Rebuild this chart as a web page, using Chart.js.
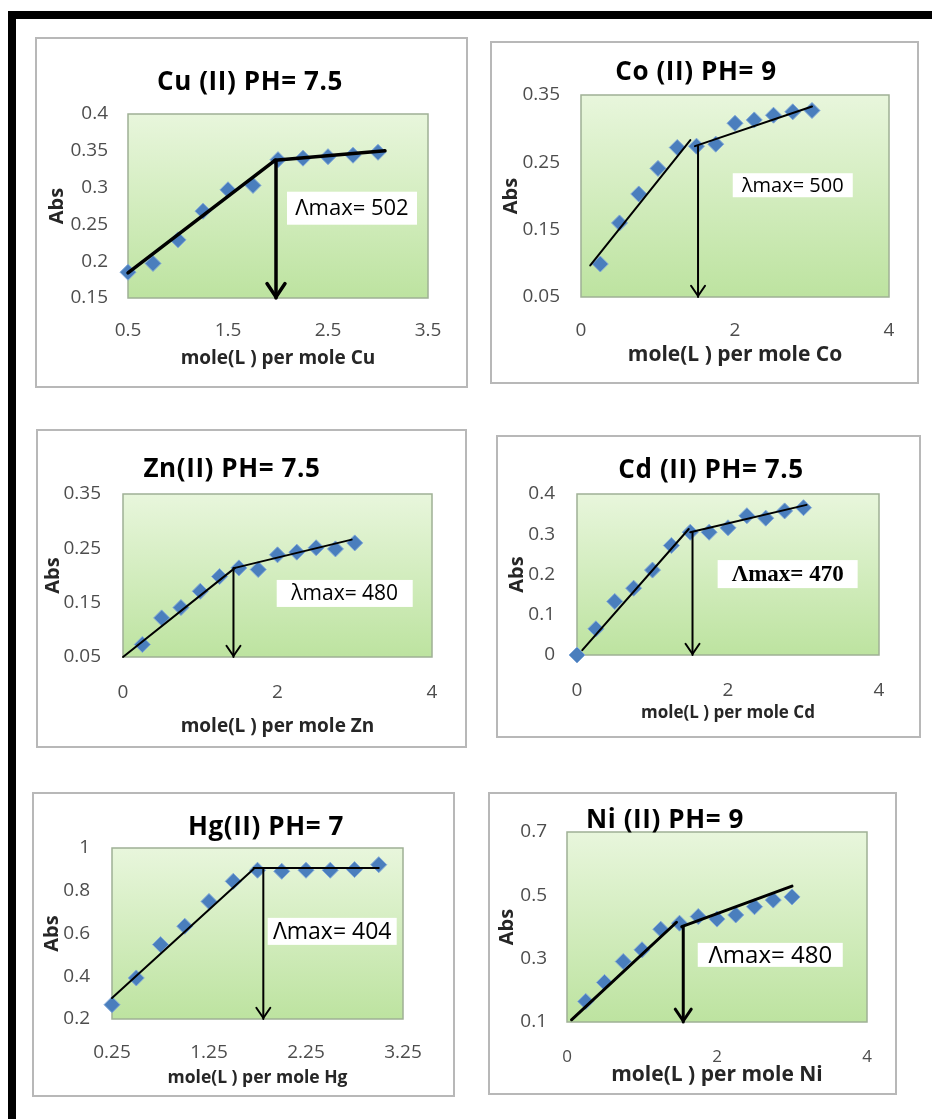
<!DOCTYPE html>
<html>
<head>
<meta charset="utf-8">
<script src="https://cdn.jsdelivr.net/npm/chart.js@4.4.1/dist/chart.umd.min.js"></script>
<style>
  html, body { margin: 0; padding: 0; background: #fff; }
  body { width: 932px; height: 1119px; position: relative; overflow: hidden; font-family: "Open Sans", Lato, sans-serif; }
  .frame-top { position: absolute; left: 8px; top: 11px; width: 924px; height: 8px; background: #000; }
  .frame-left { position: absolute; left: 8px; top: 11px; width: 8px; height: 1108px; background: #000; }
  .box { position: absolute; border: 2px solid #b8b8b8; box-sizing: border-box; background: #fff; }
  canvas { position: absolute; }
  .title { position: absolute; font-weight: bold; font-size: 26px; letter-spacing: 0.6px; transform: translate(-50%, -50%); white-space: nowrap; color: #000; }
</style>
</head>
<body>
<div class="frame-top"></div>
<div class="frame-left"></div>

<script>
// Cu (II) PH= 7.5
const cuRatio = [0.5, 0.75, 1, 1.25, 1.5, 1.75, 2, 2.25, 2.5, 2.75, 3];
const cuAbs = [0.185, 0.197, 0.229, 0.268, 0.297, 0.303, 0.338, 0.340, 0.342, 0.344, 0.348];
const cuFit1 = [[0.5, 0.184], [1.97, 0.337]];
const cuFit2 = [[1.97, 0.337], [3.07, 0.350]];
const cuArrow = [1.98, 0.337];
const cuXTicks = [0.5, 1.5, 2.5, 3.5];
const cuYTicks = [0.15, 0.2, 0.25, 0.3, 0.35, 0.4];

// Co (II) PH= 9
const coRatio = [0.25, 0.5, 0.75, 1, 1.25, 1.5, 1.75, 2, 2.25, 2.5, 2.75, 3];
const coAbs = [0.099, 0.160, 0.203, 0.241, 0.272, 0.274, 0.277, 0.308, 0.313, 0.320, 0.325, 0.327];
const coFit1 = [[0.12, 0.097], [1.42, 0.283]];
const coFit2 = [[1.48, 0.274], [3.0, 0.333]];
const coArrow = [1.52, 0.274];
const coXTicks = [0, 2, 4];
const coYTicks = [0.05, 0.15, 0.25, 0.35];

// Zn(II) PH= 7.5
const znRatio = [0.25, 0.5, 0.75, 1, 1.25, 1.5, 1.75, 2, 2.25, 2.5, 2.75, 3];
const znAbs = [0.073, 0.122, 0.141, 0.171, 0.198, 0.214, 0.211, 0.238, 0.243, 0.251, 0.249, 0.260];
const znFit1 = [[0, 0.05], [1.45, 0.214]];
const znFit2 = [[1.45, 0.214], [2.96, 0.266]];
const znArrow = [1.43, 0.214];
const znXTicks = [0, 2, 4];
const znYTicks = [0.05, 0.15, 0.25, 0.35];

// Cd (II) PH= 7.5
const cdRatio = [0, 0.25, 0.5, 0.75, 1, 1.25, 1.5, 1.75, 2, 2.25, 2.5, 2.75, 3];
const cdAbs = [0, 0.065, 0.133, 0.166, 0.211, 0.272, 0.305, 0.305, 0.316, 0.346, 0.340, 0.358, 0.366];
const cdFit1 = [[0.07, 0.012], [1.48, 0.313]];
const cdFit2 = [[1.50, 0.305], [3.04, 0.373]];
const cdArrow = [1.53, 0.305];
const cdXTicks = [0, 2, 4];
const cdYTicks = [0, 0.1, 0.2, 0.3, 0.4];

// Hg(II) PH= 7
const hgRatio = [0.25, 0.5, 0.75, 1, 1.25, 1.5, 1.75, 2, 2.25, 2.5, 2.75, 3];
const hgAbs = [0.267, 0.392, 0.548, 0.634, 0.750, 0.844, 0.896, 0.891, 0.896, 0.896, 0.899, 0.922];
const hgFit1 = [[0.25, 0.298], [1.71, 0.902]];
const hgFit2 = [[1.71, 0.906], [3.0, 0.906]];
const hgArrow = [1.81, 0.906];
const hgXTicks = [0.25, 1.25, 2.25, 3.25];
const hgYTicks = [0.2, 0.4, 0.6, 0.8, 1];

// Ni (II) PH= 9
const niRatio = [0.25, 0.5, 0.75, 1, 1.25, 1.5, 1.75, 2, 2.25, 2.5, 2.75, 3];
const niAbs = [0.165, 0.225, 0.291, 0.328, 0.393, 0.412, 0.433, 0.425, 0.438, 0.464, 0.485, 0.495];
const niFit1 = [[0.06, 0.107], [1.46, 0.415]];
const niFit2 = [[1.53, 0.401], [3.0, 0.529]];
const niArrow = [1.55, 0.401];
const niXTicks = [0, 2, 4];
const niYTicks = [0.1, 0.3, 0.5, 0.7];

// Layout of each small chart (page pixels) and its labels
const panels = [
  { title: 'Cu (II) PH= 7.5', titleAt: [250, 80], box: [35, 37, 468, 388], plot: [128, 114, 428, 298],
    ratio: cuRatio, abs: cuAbs, fit1: cuFit1, fit2: cuFit2, arrow: cuArrow, xTicks: cuXTicks, yTicks: cuYTicks,
    xTitle: 'mole(L ) per mole Cu', xTitleSize: 19, xTitlePad: 18, xTickPad: 21, xTickSize: 19, yTickPad: 20, yTitlePad: 10,
    lineW: 3.5, head: 9, label: { text: 'Λmax= 502', x: 2.74, y: 0.272, w: 130, h: 33, font: '22px "Open Sans"' } },
  { title: 'Co (II) PH= 9', titleAt: [696, 70], box: [490, 41, 919, 384], plot: [581, 95, 889, 297],
    ratio: coRatio, abs: coAbs, fit1: coFit1, fit2: coFit2, arrow: coArrow, xTicks: coXTicks, yTicks: coYTicks,
    xTitle: 'mole(L ) per mole Co', xTitleSize: 21, xTitlePad: 16, xTickPad: 22, xTickSize: 19, yTickPad: 21, yTitlePad: 9,
    lineW: 2, head: 7, label: { text: 'λmax= 500', x: 2.75, y: 0.216, w: 120, h: 24, font: '20px "Open Sans"' } },
  { title: 'Zn(II) PH= 7.5', titleAt: [232, 467], box: [36, 429, 467, 748], plot: [123, 494, 432, 657],
    ratio: znRatio, abs: znAbs, fit1: znFit1, fit2: znFit2, arrow: znArrow, xTicks: znXTicks, yTicks: znYTicks,
    xTitle: 'mole(L ) per mole Zn', xTitleSize: 19, xTitlePad: 10, xTickPad: 24, xTickSize: 19, yTickPad: 22, yTitlePad: 5,
    lineW: 2, head: 7, label: { text: 'λmax= 480', x: 2.87, y: 0.167, w: 136, h: 27, font: '21px "Open Sans"' } },
  { title: 'Cd (II) PH= 7.5', titleAt: [711, 468], box: [496, 435, 921, 738], plot: [577, 494, 879, 655],
    ratio: cdRatio, abs: cdAbs, fit1: cdFit1, fit2: cdFit2, arrow: cdArrow, xTicks: cdXTicks, yTicks: cdYTicks,
    xTitle: 'mole(L ) per mole Cd', xTitleSize: 17, xTitlePad: 15, xTickPad: 24, xTickSize: 19, yTickPad: 22, yTitlePad: 9,
    lineW: 2, head: 7, label: { text: 'Λmax= 470', x: 2.79, y: 0.201, w: 140, h: 28, font: 'bold 23px "Liberation Serif"' } },
  { title: 'Hg(II) PH= 7', titleAt: [266, 825], box: [32, 792, 455, 1097], plot: [112, 848, 403, 1019],
    ratio: hgRatio, abs: hgAbs, fit1: hgFit1, fit2: hgFit2, arrow: hgArrow, xTicks: hgXTicks, yTicks: hgYTicks,
    xTitle: 'mole(L ) per mole Hg', xTitleSize: 17.5, xTitlePad: 8, xTickPad: 22, xTickSize: 19, yTickPad: 22, yTitlePad: 8,
    lineW: 2, head: 7, label: { text: 'Λmax= 404', x: 2.52, y: 0.61, w: 129, h: 27, font: '23px "Open Sans"' } },
  { title: 'Ni (II) PH= 9', titleAt: [665, 818], box: [488, 792, 897, 1095], plot: [567, 832, 867, 1022],
    ratio: niRatio, abs: niAbs, fit1: niFit1, fit2: niFit2, arrow: niArrow, xTicks: niXTicks, yTicks: niYTicks,
    xTitle: 'mole(L ) per mole Ni', xTitleSize: 21, xTitlePad: 7, xTickPad: 25, xTickSize: 17, yTickPad: 20, yTitlePad: 7,
    lineW: 3, head: 8, label: { text: 'Λmax= 480', x: 2.71, y: 0.312, w: 145, h: 24, font: '24px "Open Sans"' } }
];

// Plot area background, arrow head and the λmax label
const plotDecor = {
  id: 'plotDecor',
  beforeDatasetsDraw(chart) {
    const { ctx, chartArea: a } = chart;
    const g = ctx.createLinearGradient(0, a.top, 0, a.bottom);
    g.addColorStop(0, '#e8f6dc');
    g.addColorStop(1, '#bde3a0');
    ctx.save();
    ctx.fillStyle = g;
    ctx.fillRect(a.left, a.top, a.width, a.height);
    ctx.strokeStyle = '#9fb095';
    ctx.lineWidth = 1.5;
    ctx.strokeRect(a.left, a.top, a.width, a.height);
    ctx.restore();
  },
  afterDatasetsDraw(chart, args, opts) {
    const { ctx, scales: { x, y } } = chart;
    const ax = x.getPixelForValue(opts.arrow[0]);
    const ay = y.getPixelForValue(y.min);
    ctx.save();
    ctx.strokeStyle = '#000';
    ctx.lineWidth = opts.lineW;
    ctx.lineCap = 'round';
    ctx.lineJoin = 'round';
    ctx.beginPath();
    ctx.moveTo(ax - opts.head, ay - opts.head * 1.6);
    ctx.lineTo(ax, ay - 1);
    ctx.lineTo(ax + opts.head, ay - opts.head * 1.6);
    ctx.stroke();

    const lb = opts.label;
    const lx = x.getPixelForValue(lb.x);
    const ly = y.getPixelForValue(lb.y);
    ctx.fillStyle = '#ffffff';
    ctx.fillRect(lx - lb.w / 2, ly - lb.h / 2, lb.w, lb.h);
    ctx.fillStyle = '#000';
    ctx.font = lb.font;
    ctx.textAlign = 'center';
    ctx.textBaseline = 'middle';
    ctx.fillText(lb.text, lx, ly + 1);
    ctx.restore();
  }
};

const toPts = pairs => pairs.map(p => ({ x: p[0], y: p[1] }));

panels.forEach(p => {
  const [x0, y0, x1, y1] = p.box;
  const [px0, py0, px1, py1] = p.plot;
  const W = x1 - x0, H = y1 - y0;

  const box = document.createElement('div');
  box.className = 'box';
  Object.assign(box.style, { left: x0 + 'px', top: y0 + 'px', width: W + 'px', height: H + 'px' });
  document.body.appendChild(box);

  const cv = document.createElement('canvas');
  cv.width = W;
  cv.height = H;
  Object.assign(cv.style, { left: x0 + 'px', top: y0 + 'px', width: W + 'px', height: H + 'px' });
  document.body.appendChild(cv);

  const t = document.createElement('div');
  t.className = 'title';
  t.textContent = p.title;
  Object.assign(t.style, { left: p.titleAt[0] + 'px', top: p.titleAt[1] + 'px' });
  document.body.appendChild(t);

  const points = p.ratio.map((r, i) => ({ x: r, y: p.abs[i] }));
  const lineSet = (data, w) => ({
    data: toPts(data), showLine: true, borderColor: '#000', borderWidth: w,
    pointRadius: 0, borderCapStyle: 'round', clip: false, order: 1
  });

  new Chart(cv, {
    type: 'scatter',
    data: {
      datasets: [
        { data: points, pointStyle: 'rectRot', pointRadius: 8, pointHoverRadius: 8,
          backgroundColor: '#4a7ebd', borderColor: '#80a8d8', borderWidth: 1, clip: false, order: 2 },
        lineSet(p.fit1, p.lineW),
        lineSet(p.fit2, p.lineW),
        lineSet([p.arrow, [p.arrow[0], p.yTicks[0]]], p.lineW)
      ]
    },
    options: {
      responsive: false,
      devicePixelRatio: 1,
      animation: false,
      layout: { padding: { left: 0, top: py0 - y0, right: x1 - px1, bottom: 0 } },
      scales: {
        x: {
          type: 'linear',
          min: p.xTicks[0],
          max: p.xTicks[p.xTicks.length - 1],
          afterBuildTicks: s => { s.ticks = p.xTicks.map(v => ({ value: v })); },
          afterFit: s => { s.height = y1 - py1; s.paddingLeft = 0; s.paddingRight = 0; },
          grid: { display: false, drawTicks: false },
          border: { display: false },
          ticks: { padding: p.xTickPad, color: '#4d4d4d', autoSkip: false, maxRotation: 0,
            font: { family: 'Open Sans', size: p.xTickSize }, callback: v => String(v) },
          title: { display: true, text: p.xTitle, color: '#262626',
            font: { family: 'Open Sans', size: p.xTitleSize, weight: 'bold' },
            padding: { top: 0, bottom: p.xTitlePad } }
        },
        y: {
          type: 'linear',
          min: p.yTicks[0],
          max: p.yTicks[p.yTicks.length - 1],
          afterBuildTicks: s => { s.ticks = p.yTicks.map(v => ({ value: v })); },
          afterFit: s => { s.width = px0 - x0; s.paddingTop = 0; s.paddingBottom = 0; },
          grid: { display: false, drawTicks: false },
          border: { display: false },
          ticks: { padding: p.yTickPad, color: '#4d4d4d', autoSkip: false,
            font: { family: 'Open Sans', size: 19 }, callback: v => String(v) },
          title: { display: true, text: 'Abs', color: '#262626',
            font: { family: 'Open Sans', size: 20, weight: 'bold' },
            padding: { top: p.yTitlePad, bottom: 0 } }
        }
      },
      plugins: {
        legend: { display: false },
        tooltip: { enabled: false },
        plotDecor: { arrow: p.arrow, lineW: p.lineW, head: p.head, label: p.label }
      }
    },
    plugins: [plotDecor]
  });
});
</script>
</body>
</html>
